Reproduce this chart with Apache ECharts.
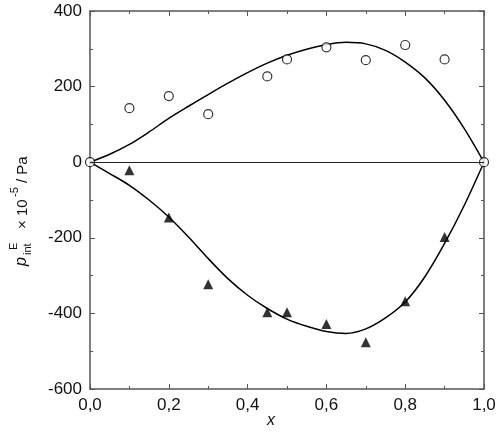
<!DOCTYPE html>
<html><head><meta charset="utf-8">
<script src="https://cdn.jsdelivr.net/npm/echarts@6/dist/echarts.min.js"></script>
<style>html,body{margin:0;padding:0;background:#fff}#c{width:500px;height:445px}</style>
</head><body><div id="c"></div>
<script>
// Experimental points (open circles)
const circleX = [0, 0.1, 0.2, 0.3, 0.45, 0.5, 0.6, 0.7, 0.8, 0.9, 1.0];
const circleY = [0, 143, 175, 127, 227, 272, 304, 270, 310, 272, 0];
// Experimental points (filled triangles)
const triX = [0.1, 0.2, 0.3, 0.45, 0.5, 0.6, 0.7, 0.8, 0.9];
const triY = [-21, -146, -323, -397, -397, -428, -476, -368, -198];
// Fitted curves
const curveX = [0, 0.05, 0.1, 0.15, 0.2, 0.25, 0.3, 0.35, 0.4, 0.45, 0.5, 0.55, 0.6, 0.65, 0.7, 0.75, 0.8, 0.85, 0.9, 0.95, 1.0];
const upperY = [0, 21, 47, 80, 116, 148, 179, 209, 237, 262, 283, 299, 311, 317, 313, 296, 265, 223, 164, 89, 0];
const lowerY = [0, -30, -61, -100, -145, -198, -255, -308, -352, -387, -415, -434, -448, -453, -441, -412, -370, -303, -215, -114, 0];
// Tick settings
const xTicks = {min: 0, max: 1, interval: 0.2};
const yTicks = {min: -600, max: 400, interval: 200};

const zip = (xs, ys) => xs.map((x, i) => [x, ys[i]]);
const frame = '#555';
const font = 'Liberation Sans, Arial, sans-serif';

const chart = echarts.init(document.getElementById('c'), null, {renderer: 'canvas'});
const baseX = {
  type: 'value', min: xTicks.min, max: xTicks.max, interval: xTicks.interval,
  axisLine: {show: true, onZero: false, lineStyle: {color: frame, width: 1.5}},
  axisTick: {show: true, inside: true, length: 5, lineStyle: {color: frame}},
  minorTick: {show: true, splitNumber: 2, length: 3, lineStyle: {color: frame}},
  splitLine: {show: false}
};
const baseY = {
  type: 'value', min: yTicks.min, max: yTicks.max, interval: yTicks.interval,
  axisLine: {show: true, onZero: false, lineStyle: {color: frame, width: 1.5}},
  axisTick: {show: true, inside: true, length: 5, lineStyle: {color: frame}},
  minorTick: {show: true, splitNumber: 2, length: 3, lineStyle: {color: frame}},
  splitLine: {show: false}
};
const rot = Math.PI / 2;
const vt = (text, x, y, f) => ({type: 'text', x: x, y: y, rotation: rot,
  style: {text: text, font: f, fill: '#111', textVerticalAlign: 'bottom'}});
chart.setOption({
  animation: false,
  grid: {left: 90, right: 16, top: 11, bottom: 56},
  xAxis: [
    Object.assign({}, baseX, {position: 'bottom',
      axisLabel: {show: true, margin: 8, color: '#111', fontSize: 17, fontFamily: font,
        formatter: v => v.toFixed(1).replace('.', ',')}}),
    Object.assign({}, baseX, {position: 'top', axisLabel: {show: false}})
  ],
  yAxis: [
    Object.assign({}, baseY, {position: 'left',
      axisLabel: {show: true, margin: 8, color: '#111', fontSize: 17, fontFamily: font}}),
    Object.assign({}, baseY, {position: 'right', axisLabel: {show: false}})
  ],
  graphic: [
    {type: 'text', left: 267, top: 413, style: {text: 'x', font: 'italic 16px ' + font, fill: '#111'}},
    vt('p', 30, 266, 'italic 16px ' + font),
    vt('int', 33, 255, '11px ' + font),
    vt('E', 19, 250, '11px ' + font),
    vt('\u00d7 10', 30, 229, '15px ' + font),
    vt('-5', 20, 197, '11px ' + font),
    vt('/ Pa', 30, 183, '15px ' + font)
  ],
  series: [
    {type: 'line', data: zip(curveX, upperY), smooth: 0.3, showSymbol: false,
      lineStyle: {color: '#000', width: 1.5}, z: 3,
      markLine: {silent: true, symbol: 'none', label: {show: false},
        lineStyle: {color: '#222', width: 1, type: 'solid'}, data: [{yAxis: 0}]}},
    {type: 'line', data: zip(curveX, lowerY), smooth: 0.3, showSymbol: false,
      lineStyle: {color: '#000', width: 1.5}, z: 3},
    {type: 'scatter', data: zip(circleX, circleY), symbol: 'circle', symbolSize: 9,
      itemStyle: {color: '#fff', borderColor: '#000', borderWidth: 1.2}, z: 4},
    {type: 'scatter', data: zip(triX, triY), symbol: 'triangle', symbolSize: 10,
      itemStyle: {color: '#000'}, z: 4}
  ]
});
</script></body></html>
